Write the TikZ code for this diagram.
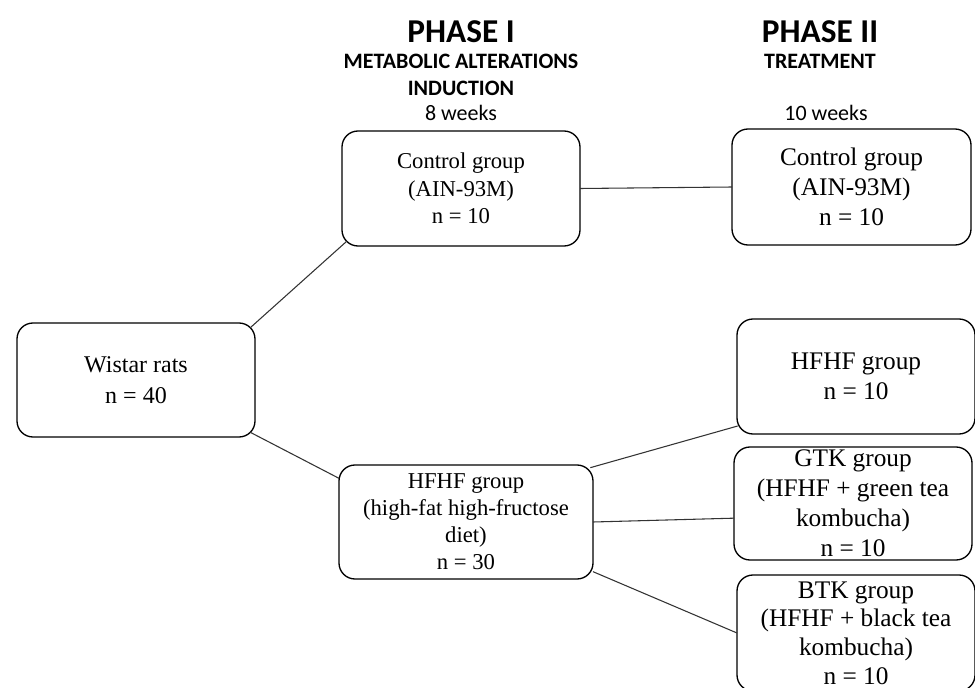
\documentclass[tikz,border=0pt]{standalone}
\usepackage{fontspec}
\setmainfont{Liberation Serif}
\newfontfamily\calfont{Carlito}

\begin{document}
\begin{tikzpicture}[x=0.75pt,y=-0.75pt,
    group/.style={draw=black,line width=1pt,rounded corners=12pt,fill=white,
      align=center,inner sep=0pt,outer sep=0pt},
    link/.style={draw=black!80,line width=0.8pt},
    phase/.style={font={\calfont\bfseries\fontsize{25}{28}\selectfont}},
    aim/.style={font={\calfont\bfseries\fontsize{16.5}{20}\selectfont}},
    span/.style={font={\calfont\fontsize{16.5}{20}\selectfont}}]

        % Step 1: Fix the frame of the picture
        \useasboundingbox (0,0) rectangle (975,688);
        \clip (0,0) rectangle (975,688);

        % Step 2: Write the phase headings
        \node[phase] (ph1) at (461,32) {PHASE I};
        \node[aim]   (ph1a) at (461,61) {METABOLIC ALTERATIONS};
        \node[aim]   (ph1b) at (461,88) {INDUCTION};
        \node[span]  (wk1) at (461,113) {8 weeks};
        \node[phase] (ph2) at (820,32) {PHASE II};
        \node[aim]   (ph2a) at (820,61) {TREATMENT};
        \node[span]  (wk2) at (826,113) {10 weeks};

        % Step 3: Place the starting group
        \node[group,minimum width=178.5pt,minimum height=85.5pt,
          font={\fontsize{18}{23}\selectfont}] (rats) at (136,380)
          {Wistar rats\\n = 40};

        % Step 4: Place the groups of phase I
        \node[group,minimum width=178.5pt,minimum height=86.25pt,
          font={\fontsize{17}{20.5}\selectfont}] (ctrlA) at (461,188.5)
          {Control group\\(AIN-93M)\\n = 10};
        \node[group,minimum width=190.5pt,minimum height=85.5pt,
          font={\fontsize{17}{20.3}\selectfont}] (hfhfA) at (466,522)
          {HFHF group\\(high-fat high-fructose\\diet)\\n = 30};

        % Step 5: Place the groups of phase II
        \node[group,minimum width=179.25pt,minimum height=87pt,
          font={\fontsize{19}{22.5}\selectfont}] (ctrlB) at (851.5,187)
          {Control group\\(AIN-93M)\\n = 10};
        \node[group,minimum width=178.5pt,minimum height=86.25pt,
          font={\fontsize{19}{22.5}\selectfont}] (hfhfB) at (856,376.5)
          {HFHF group\\n = 10};
        \node[group,minimum width=178.5pt,minimum height=84.75pt,
          font={\fontsize{19}{22.5}\selectfont}] (gtk) at (853,503.5)
          {GTK group\\(HFHF + green tea\\kombucha)\\n = 10};
        \node[group,minimum width=178.5pt,minimum height=87pt,
          font={\fontsize{19}{21.5}\selectfont}] (btk) at (856,633)
          {BTK group\\(HFHF + black tea\\kombucha)\\n = 10};

        % Step 6: Join the groups
        \draw[link] ([xshift=-3.5pt,yshift=-3.5pt]rats.north east)
          -- ([xshift=3.5pt,yshift=3.5pt]ctrlA.south west);
        \draw[link] ([xshift=-3.5pt,yshift=3.5pt]rats.south east)
          -- ([yshift=-10pt]hfhfA.north west);
        \draw[link] (ctrlA.east) -- (ctrlB.west);
        \draw[link] ([xshift=-2pt,yshift=-2pt]hfhfA.north east)
          -- ([xshift=0.5pt,yshift=6pt]hfhfB.south west);
        \draw[link] (hfhfA.east) -- ([yshift=-11pt]gtk.west);
        \draw[link] ([yshift=5.5pt]hfhfA.south east) -- (btk.west);
    \end{tikzpicture}
\end{document}
